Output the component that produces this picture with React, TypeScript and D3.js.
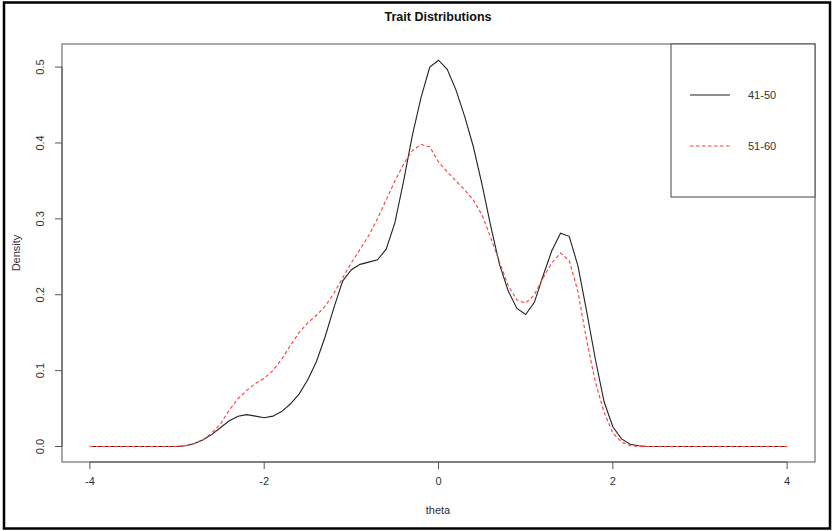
import React from "react";
import * as d3 from "d3";

const thetaGrid = [
  -4.0, -3.9, -3.8, -3.7, -3.6, -3.5, -3.4, -3.3, -3.2, -3.1,
  -3.0, -2.9, -2.8, -2.7, -2.6, -2.5, -2.4, -2.3, -2.2, -2.1,
  -2.0, -1.9, -1.8, -1.7, -1.6, -1.5, -1.4, -1.3, -1.2, -1.1,
  -1.0, -0.9, -0.8, -0.7, -0.6, -0.5, -0.4, -0.3, -0.2, -0.1,
  0.0, 0.1, 0.2, 0.3, 0.4, 0.5, 0.6, 0.7, 0.8, 0.9,
  1.0, 1.1, 1.2, 1.3, 1.4, 1.5, 1.6, 1.7, 1.8, 1.9,
  2.0, 2.1, 2.2, 2.3, 2.4, 2.5, 2.6, 2.7, 2.8, 2.9,
  3.0, 3.1, 3.2, 3.3, 3.4, 3.5, 3.6, 3.7, 3.8, 3.9, 4.0,
];

const density4150 = [
  0, 0, 0, 0, 0, 0, 0, 0, 0, 0,
  0.000, 0.001, 0.004, 0.009, 0.016, 0.025, 0.034, 0.040, 0.042, 0.040,
  0.038, 0.040, 0.046, 0.056, 0.069, 0.088, 0.112, 0.145, 0.183, 0.218,
  0.233, 0.240, 0.243, 0.246, 0.260, 0.295, 0.350, 0.410, 0.460, 0.500,
  0.509, 0.497, 0.470, 0.435, 0.395, 0.345, 0.290, 0.240, 0.205, 0.182,
  0.174, 0.190, 0.225, 0.258, 0.281, 0.277, 0.238, 0.178, 0.115, 0.059,
  0.026, 0.010, 0.003, 0.001, 0.000, 0, 0, 0, 0, 0,
  0, 0, 0, 0, 0, 0, 0, 0, 0, 0, 0,
];

const density5160 = [
  0, 0, 0, 0, 0, 0, 0, 0, 0, 0,
  0.000, 0.001, 0.004, 0.009, 0.018, 0.030, 0.048, 0.063, 0.074, 0.083,
  0.090, 0.100, 0.115, 0.133, 0.150, 0.163, 0.173, 0.185, 0.202, 0.222,
  0.242, 0.260, 0.278, 0.300, 0.325, 0.350, 0.372, 0.390, 0.398, 0.395,
  0.375, 0.362, 0.350, 0.338, 0.325, 0.305, 0.275, 0.243, 0.212, 0.193,
  0.189, 0.200, 0.222, 0.242, 0.255, 0.245, 0.204, 0.140, 0.085, 0.045,
  0.018, 0.006, 0.001, 0.000, 0, 0, 0, 0, 0, 0,
  0, 0, 0, 0, 0, 0, 0, 0, 0, 0, 0,
];

const xTicks = [-4, -2, 0, 2, 4];
const yTicks = [0.0, 0.1, 0.2, 0.3, 0.4, 0.5];
const seriesNames = ["41-50", "51-60"];
const seriesColors = ["#222222", "#ff3b3b"];
const seriesDash = ["none", "3.5,2.5"];

const W = 833;
const H = 531;
const plot = { left: 62, right: 815, top: 44, bottom: 462 };
const font = "'Liberation Sans', Arial, sans-serif";
const textColor = "#333";

export default function App() {
  const x = d3.scaleLinear().domain([-4.32, 4.32]).range([plot.left, plot.right]);
  const y = d3.scaleLinear().domain([-0.0204, 0.5304]).range([plot.bottom, plot.top]);
  const line = d3
    .line<number>()
    .x((_, i) => x(thetaGrid[i]))
    .y((d) => y(d));
  const series = [density4150, density5160];

  const legend = { x0: 671, y0: 44, x1: 815, y1: 197 };
  const legendRows = [95, 146];

  return (
    <svg
      width={W}
      height={H}
      style={{ position: "absolute", left: 0, top: 0, background: "#fff" }}
    >
      <rect x={0} y={0} width={W} height={H} fill="#fff" />
      <rect x={4} y={2.5} width={826} height={526} fill="none" stroke="#000" strokeWidth={2.5} />
      <text
        x={438}
        y={21}
        textAnchor="middle"
        fontFamily={font}
        fontWeight="bold"
        fontSize={12.5}
        fill="#111"
      >
        Trait Distributions
      </text>

      {/* plot box */}
      <rect
        x={plot.left}
        y={plot.top}
        width={plot.right - plot.left}
        height={plot.bottom - plot.top}
        fill="none"
        stroke="#555"
        strokeWidth={1}
      />

      {/* series */}
      {series.map((s, i) => (
        <path
          key={i}
          d={line(s) || ""}
          fill="none"
          stroke={seriesColors[i]}
          strokeWidth={1.1}
          strokeDasharray={seriesDash[i]}
        />
      ))}

      {/* x axis */}
      <line x1={x(-4)} x2={x(4)} y1={plot.bottom} y2={plot.bottom} stroke="#555" />
      {xTicks.map((t) => (
        <g key={t}>
          <line x1={x(t)} x2={x(t)} y1={plot.bottom} y2={plot.bottom + 7} stroke="#555" />
          <text
            x={x(t)}
            y={plot.bottom + 23}
            textAnchor="middle"
            fontFamily={font}
            fontSize={11}
            fill={textColor}
          >
            {t}
          </text>
        </g>
      ))}
      <text x={438} y={514} textAnchor="middle" fontFamily={font} fontSize={11} fill={textColor}>
        theta
      </text>

      {/* y axis */}
      <line x1={plot.left} x2={plot.left} y1={y(0)} y2={y(0.5)} stroke="#555" />
      {yTicks.map((t) => (
        <g key={t}>
          <line x1={plot.left - 7} x2={plot.left} y1={y(t)} y2={y(t)} stroke="#555" />
          <text
            transform={`translate(${44},${y(t)}) rotate(-90)`}
            textAnchor="middle"
            fontFamily={font}
            fontSize={11}
            fill={textColor}
          >
            {t.toFixed(1)}
          </text>
        </g>
      ))}
      <text
        transform={`translate(${20},${253}) rotate(-90)`}
        textAnchor="middle"
        fontFamily={font}
        fontSize={11}
        fill={textColor}
      >
        Density
      </text>

      {/* legend */}
      <rect
        x={legend.x0}
        y={legend.y0}
        width={legend.x1 - legend.x0}
        height={legend.y1 - legend.y0}
        fill="#fff"
        stroke="#444"
        strokeWidth={1}
      />
      {seriesNames.map((n, i) => (
        <g key={n}>
          <line
            x1={690}
            x2={730}
            y1={legendRows[i]}
            y2={legendRows[i]}
            stroke={seriesColors[i]}
            strokeWidth={1.1}
            strokeDasharray={seriesDash[i]}
          />
          <text
            x={748}
            y={legendRows[i] + 4}
            fontFamily={font}
            fontSize={11}
            fill={textColor}
          >
            {n}
          </text>
        </g>
      ))}
    </svg>
  );
}
